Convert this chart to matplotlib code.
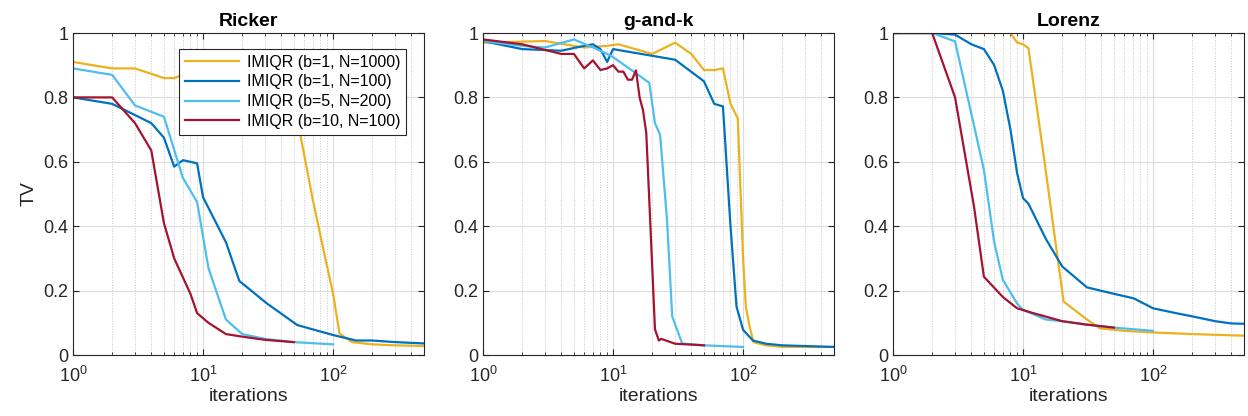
import matplotlib
matplotlib.use("Agg")
import matplotlib.pyplot as plt
from matplotlib.ticker import LogLocator, NullFormatter, FixedLocator

plt.rcParams['font.family'] = ['Liberation Sans', 'DejaVu Sans']

# --- series labels and colours (MATLAB default order) ---
labels = ["IMIQR (b=1, N=1000)", "IMIQR (b=1, N=100)",
          "IMIQR (b=5, N=200)", "IMIQR (b=10, N=100)"]
colors = ["#EDB120", "#0072BD", "#4DBEEE", "#A2142F"]
titles = ["Ricker", "g-and-k", "Lorenz"]

# --- Ricker ---
ricker_x = [
    [1, 2, 3, 5, 6, 7, 10, 20, 30, 40, 55, 70, 85, 100, 112, 140, 200, 300, 500],
    [1, 2, 3, 4, 5, 6, 7, 8, 9, 10, 15, 19, 31, 53, 100, 150, 200, 300, 500],
    [1, 2, 3, 5, 7, 9, 11, 15, 20, 30, 50, 100],
    [1, 2, 3, 4, 5, 6, 8, 9, 11, 15, 20, 30, 50],
]
ricker_y = [
    [0.91, 0.89, 0.89, 0.86, 0.86, 0.87, 0.88, 0.85, 0.82, 0.78, 0.70, 0.48, 0.32, 0.19, 0.067, 0.04, 0.033, 0.03, 0.028],
    [0.80, 0.78, 0.745, 0.72, 0.675, 0.585, 0.605, 0.60, 0.595, 0.49, 0.35, 0.23, 0.16, 0.093, 0.062, 0.045, 0.045, 0.04, 0.036],
    [0.89, 0.87, 0.775, 0.74, 0.55, 0.475, 0.27, 0.11, 0.065, 0.05, 0.04, 0.033],
    [0.80, 0.80, 0.72, 0.635, 0.41, 0.30, 0.19, 0.13, 0.10, 0.065, 0.057, 0.047, 0.04],
]

# --- g-and-k ---
gk_x = [
    [1, 3, 5, 6, 9, 11, 20, 30, 40, 50, 60, 70, 80, 91, 100, 105, 112, 120, 150, 200, 500],
    [1, 2, 4, 6, 7, 8, 9, 10, 30, 50, 60, 70, 80, 89, 100, 119, 150, 200, 500],
    [1, 2, 3, 5, 7, 9, 10, 15, 19, 21, 23, 26, 28.5, 34, 50, 100],
    [1, 2, 4, 5, 6, 7, 8, 9, 10, 11, 12, 13, 14, 15, 16, 17, 18, 19, 21, 22.5, 23.5, 30, 50],
]
gk_y = [
    [0.97, 0.975, 0.96, 0.955, 0.96, 0.965, 0.935, 0.97, 0.935, 0.885, 0.885, 0.89, 0.78, 0.735, 0.30, 0.15, 0.09, 0.04, 0.03, 0.025, 0.025],
    [0.975, 0.95, 0.945, 0.96, 0.965, 0.95, 0.91, 0.95, 0.917, 0.85, 0.78, 0.772, 0.40, 0.15, 0.078, 0.045, 0.035, 0.03, 0.025],
    [0.975, 0.96, 0.955, 0.98, 0.955, 0.935, 0.925, 0.875, 0.845, 0.72, 0.684, 0.42, 0.12, 0.036, 0.03, 0.025],
    [0.98, 0.965, 0.935, 0.935, 0.89, 0.915, 0.885, 0.89, 0.90, 0.88, 0.88, 0.855, 0.855, 0.884, 0.80, 0.76, 0.69, 0.48, 0.08, 0.045, 0.05, 0.035, 0.03],
]

# --- Lorenz ---
lorenz_x = [
    [1, 7, 8, 9, 10, 11, 14.4, 20.5, 31, 39, 60, 100, 200, 500],
    [1, 2, 3, 4, 5, 6, 7, 8, 9, 10, 11, 15, 20, 31, 50, 71, 100, 150, 200, 300, 400, 500],
    [1, 2, 3, 4, 5, 6, 7, 9, 10, 15, 20, 30, 50, 100],
    [1, 2, 3, 4.2, 5, 7, 9, 12, 20, 30, 50],
]
lorenz_y = [
    [1.0, 1.0, 1.0, 0.97, 0.965, 0.953, 0.62, 0.166, 0.11, 0.083, 0.075, 0.07, 0.065, 0.06],
    [1.0, 1.0, 0.995, 0.965, 0.95, 0.90, 0.82, 0.70, 0.565, 0.487, 0.47, 0.36, 0.275, 0.21, 0.19, 0.176, 0.145, 0.13, 0.12, 0.105, 0.098, 0.097],
    [1.0, 1.0, 0.974, 0.75, 0.575, 0.35, 0.233, 0.16, 0.14, 0.11, 0.105, 0.095, 0.085, 0.075],
    [1.0, 1.0, 0.80, 0.46, 0.243, 0.18, 0.145, 0.13, 0.105, 0.095, 0.085],
]

panels_x = [ricker_x, gk_x, lorenz_x]
panels_y = [ricker_y, gk_y, lorenz_y]

yticks = [0, 0.2, 0.4, 0.6, 0.8, 1]
ytick_labels = ["0", "0.2", "0.4", "0.6", "0.8", "1"]

fig = plt.figure(figsize=(12.48, 4.16), dpi=100)
lefts = [73 / 1248, 483 / 1248, 893 / 1248]
axw = 351 / 1248
bottom = 1 - 355 / 416
axh = 322 / 416

dark = "#262626"
for k in range(3):
    ax = fig.add_axes([lefts[k], bottom, axw, axh])
    for xs, ys, c, lab in zip(panels_x[k], panels_y[k], colors, labels):
        ax.plot(xs, ys, color=c, linewidth=1.6, label=lab)
    ax.set_xscale("log")
    ax.set_xlim(1, 500)
    ax.set_ylim(0, 1)
    ax.set_yticks(yticks)
    ax.set_yticklabels(ytick_labels)
    ax.xaxis.set_major_locator(FixedLocator([1, 10, 100]))
    ax.xaxis.set_minor_locator(LogLocator(base=10, subs=range(2, 10)))
    ax.xaxis.set_minor_formatter(NullFormatter())
    ax.grid(True, which="major", color="#dcdcdc", linewidth=0.8, linestyle="-")
    ax.grid(True, which="minor", axis="x", color="#c8c8c8", linewidth=0.7, linestyle=":")
    ax.set_axisbelow(True)
    ax.tick_params(which="both", direction="in", top=True, right=True,
                   colors=dark, labelsize=13, labelcolor=dark)
    ax.tick_params(axis="x", which="major", pad=8)
    ax.tick_params(which="major", length=4)
    ax.tick_params(which="minor", length=2)
    for s in ax.spines.values():
        s.set_color(dark)
        s.set_linewidth(0.8)
    ax.set_title(titles[k], fontsize=14, fontweight="bold", pad=5)
    ax.set_xlabel("iterations", fontsize=14, color=dark, labelpad=1)
    if k == 0:
        ax.set_ylabel("TV", fontsize=14, color=dark)
        leg = ax.legend(loc="upper right", bbox_to_anchor=(0.95, 0.95),
                        borderaxespad=0,
                        fontsize=11.5, fancybox=False, framealpha=1,
                        edgecolor=dark, handlelength=3.4, borderpad=0.35,
                        labelspacing=0.3, handletextpad=0.5)
        leg.get_frame().set_linewidth(0.8)

fig.savefig("out.png", dpi=100)
